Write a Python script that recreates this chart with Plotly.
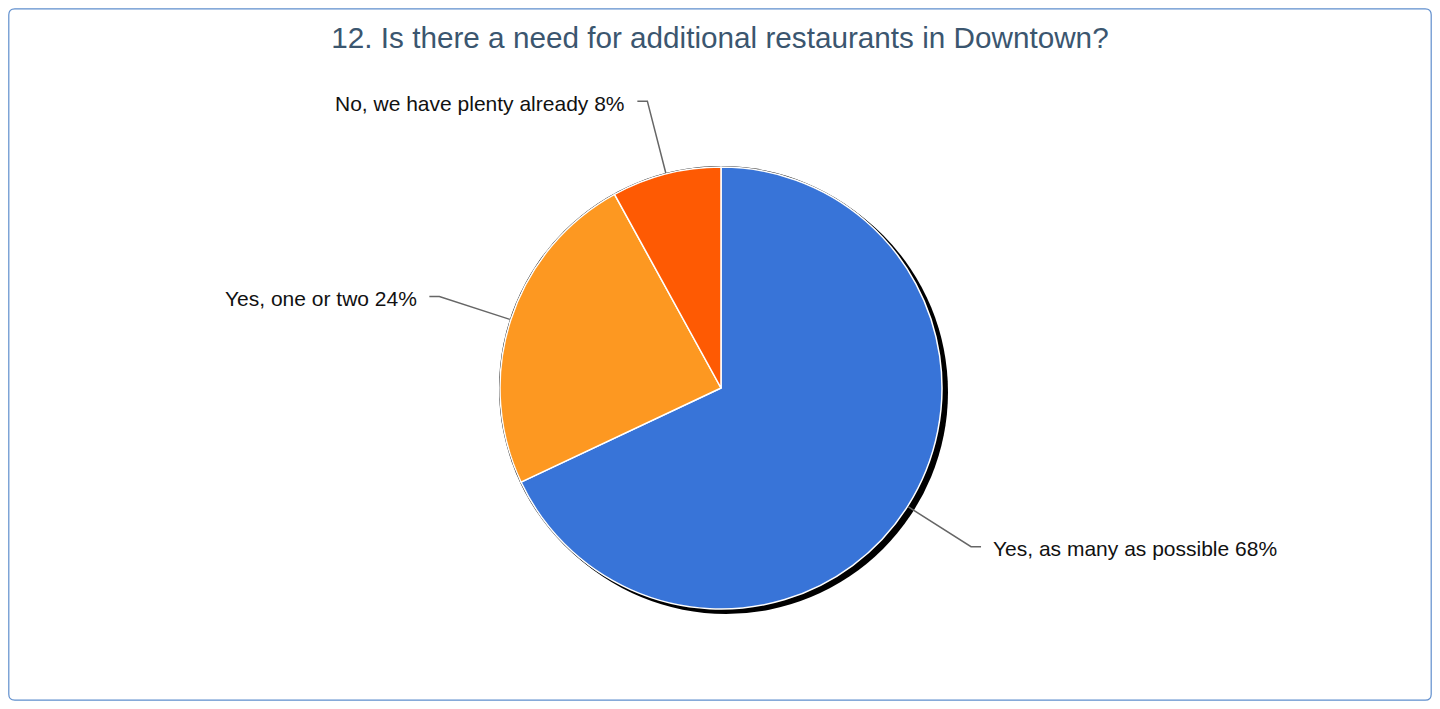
import math
import plotly.graph_objects as go

categories = ["Yes, as many as possible", "Yes, one or two", "No, we have plenty already"]
percentages = [68, 24, 8]
colors = ["#3874d8", "#fd9821", "#fe5a03"]
title_text = "12. Is there a need for additional restaurants in Downtown?"

# the page body has an 8px margin; size the figure to fit the 1440x709 window
OFF = 8
W, H = 1440 - 2 * OFF, 709 - 2 * OFF
cx, cy, R = 721 - OFF, 388 - OFF, 221  # pixel centre/radius of the pie within the figure

def px(x):
    return x / W

def py(y):
    return 1 - y / H

fig = go.Figure()
fig.add_trace(go.Pie(
    labels=categories,
    values=percentages,
    sort=False,
    direction="clockwise",
    rotation=0,
    marker=dict(colors=colors, line=dict(color="white", width=1.5)),
    textinfo="none",
    hoverinfo="label+percent",
    showlegend=False,
    domain=dict(x=[px(cx - R), px(cx + R)], y=[py(cy + R), py(cy - R)]),
))

shapes = []
# drop shadow and outline
shapes.append(dict(type="circle", xref="paper", yref="paper", layer="below",
                   x0=px(cx - R + 4), x1=px(cx + R + 6), y0=py(cy + R + 5), y1=py(cy - R + 3),
                   fillcolor="black", line=dict(width=0)))
shapes.append(dict(type="circle", xref="paper", yref="paper", layer="below",
                   x0=px(cx - R - 1), x1=px(cx + R + 1), y0=py(cy + R + 1), y1=py(cy - R - 1),
                   fillcolor="black", line=dict(width=0)))
# chart border with rounded corners
b0x, b1x, b0y, b1y, rc = 0.8, W - 0.8, 0.8, H - 0.8, 6
border = (
    f"M {px(b0x + rc)},{py(b0y)} L {px(b1x - rc)},{py(b0y)} "
    f"Q {px(b1x)},{py(b0y)} {px(b1x)},{py(b0y + rc)} "
    f"L {px(b1x)},{py(b1y - rc)} Q {px(b1x)},{py(b1y)} {px(b1x - rc)},{py(b1y)} "
    f"L {px(b0x + rc)},{py(b1y)} Q {px(b0x)},{py(b1y)} {px(b0x)},{py(b1y - rc)} "
    f"L {px(b0x)},{py(b0y + rc)} Q {px(b0x)},{py(b0y)} {px(b0x + rc)},{py(b0y)} Z"
)
shapes.append(dict(type="path", xref="paper", yref="paper", layer="below", path=border,
                   line=dict(color="#5f8ecd", width=1.2), fillcolor="rgba(0,0,0,0)"))

annotations = []
total = sum(percentages)
cum = 0
for cat, v in zip(categories, percentages):
    mid = (cum + v / 2) / total * 2 * math.pi
    cum += v
    dx, dy = math.sin(mid), -math.cos(mid)
    sx, sy = cx + dx * (R + 1), cy + dy * (R + 1)
    ex, ey = cx + dx * R * 1.34, cy + dy * R * 1.34
    side = 1 if dx >= 0 else -1
    hx = ex + side * 10
    path = f"M {px(sx)},{py(sy)} L {px(ex)},{py(ey)} L {px(hx)},{py(ey)}"
    shapes.append(dict(type="path", xref="paper", yref="paper", path=path,
                       line=dict(color="#666666", width=1.5)))
    annotations.append(dict(
        x=px(hx + side * 10), y=py(ey + 2), xref="paper", yref="paper",
        text=f"{cat} {v}%", showarrow=False,
        xanchor="left" if side > 0 else "right", yanchor="middle",
        font=dict(family="Liberation Sans, Arial, sans-serif", size=21, color="#111111"),
    ))

fig.update_layout(
    width=W, height=H,
    margin=dict(l=0, r=0, t=0, b=0),
    paper_bgcolor="white",
    title=dict(text=title_text, x=0.5, xanchor="center", y=py(37.5 - OFF), yanchor="middle",
               font=dict(family="Liberation Sans, Arial, sans-serif", size=29.7, color="#3b566f")),
    shapes=shapes,
    annotations=annotations,
)

fig.write_html("out.html")
